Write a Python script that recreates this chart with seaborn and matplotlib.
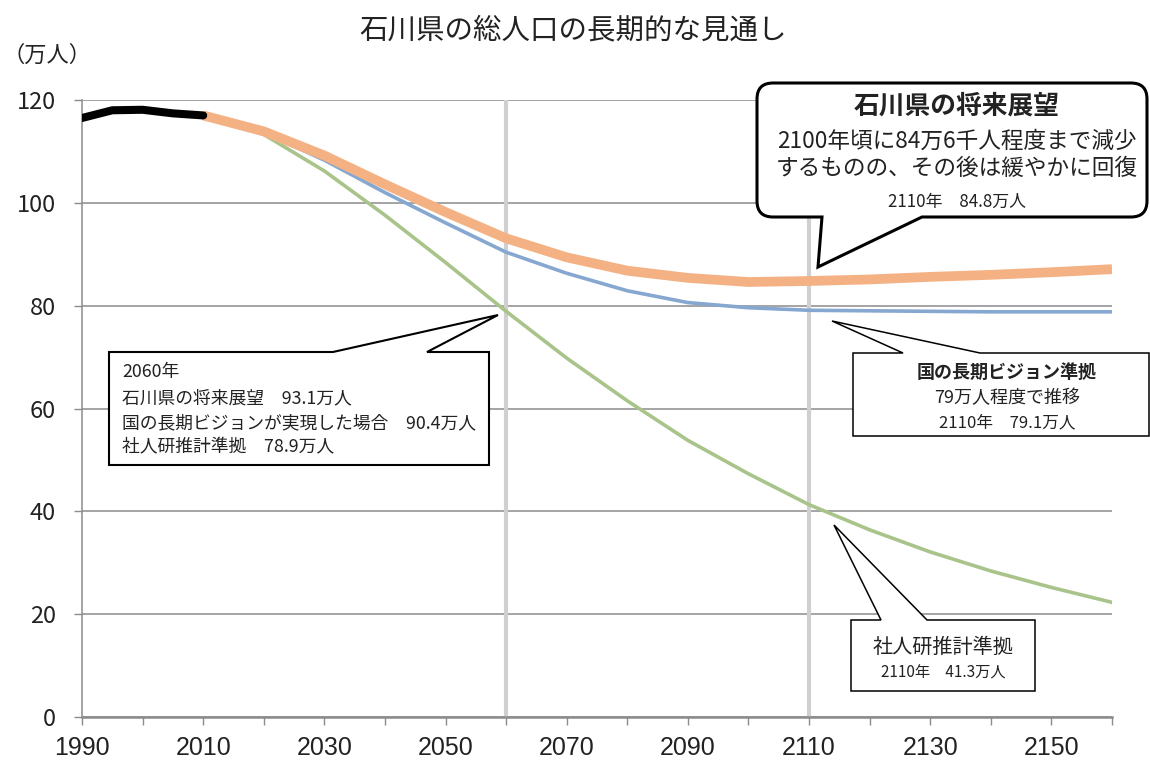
import matplotlib
matplotlib.use('Agg')
import matplotlib.pyplot as plt
import seaborn as sns
from matplotlib.path import Path
from matplotlib.patches import PathPatch

# data (万人)
years_actual = [1990, 1995, 2000, 2005, 2010]
pop_actual = [116.5, 118.0, 118.1, 117.4, 117.0]

years_proj = [2010, 2020, 2030, 2040, 2050, 2060, 2070, 2080,
              2090, 2100, 2110, 2120, 2130, 2140, 2150, 2160]
pop_pref = [117.0, 113.9, 109.2, 103.6, 98.2, 93.1, 89.4, 86.8,
            85.4, 84.6, 84.8, 85.1, 85.6, 86.0, 86.5, 87.1]
pop_national = [117.0, 113.7, 108.3, 102.0, 96.1, 90.4, 86.3, 82.9,
                80.6, 79.6, 79.1, 79.0, 78.9, 78.8, 78.8, 78.8]
pop_ipss = [117.0, 113.3, 106.2, 97.6, 88.4, 78.9, 69.8, 61.5,
            53.8, 47.3, 41.3, 36.4, 32.1, 28.4, 25.2, 22.3]

x_ticks = list(range(1990, 2161, 10))
x_labels = [str(y) if (y - 1990) % 20 == 0 else '' for y in x_ticks]
y_ticks = [0, 20, 40, 60, 80, 100, 120]
marker_years = [2060, 2110]

W, H = 1150, 767
sns.set_theme(style="white")
plt.rcParams['font.family'] = ['Noto Sans CJK JP', 'DejaVu Sans']
TXT = '#222222'
GRID = '#8c8c8c'

fig = plt.figure(figsize=(W / 100, H / 100), dpi=100)
ax = fig.add_axes([82 / W, 1 - 717 / H, (1112 - 82) / W, (717 - 100) / H])

for yr in marker_years:
    ax.axvline(yr, color='#d0d0d0', lw=3, zorder=1)

sns.lineplot(x=years_proj, y=pop_ipss, color='#a9c48a', linewidth=2.6, ax=ax, zorder=3)
sns.lineplot(x=years_proj, y=pop_national, color='#85a7d0', linewidth=2.6, ax=ax, zorder=4)
sns.lineplot(x=years_proj, y=pop_pref, color='#f4b183', linewidth=7, ax=ax, zorder=5,
             solid_capstyle='butt')
sns.lineplot(x=years_actual, y=pop_actual, color='black', linewidth=5.8, ax=ax, zorder=6,
             solid_capstyle='round')

ax.set_xlim(1990, 2160)
ax.set_ylim(0, 120)
ax.set_xticks(x_ticks)
ax.set_xticklabels(x_labels, family=['Liberation Sans', 'DejaVu Sans'], fontsize=18, color=TXT)
ax.set_yticks(y_ticks)
ax.set_yticklabels([str(v) for v in y_ticks], fontsize=17, color=TXT)
ax.set_xlabel('')
ax.set_ylabel('')
ax.tick_params(axis='x', bottom=True, direction='out', length=6, width=1, color=GRID, pad=8)
ax.tick_params(axis='y', left=True, direction='out', length=6, width=1, color=GRID, pad=13)
ax.yaxis.grid(True, color=GRID, lw=1.1)
ax.xaxis.grid(False)
ax.set_axisbelow(True)
for s in ['top', 'right']:
    ax.spines[s].set_visible(False)
ax.spines['left'].set_color(GRID)
ax.spines['left'].set_linewidth(1.1)
ax.spines['bottom'].set_color(GRID)
ax.spines['bottom'].set_linewidth(1.8)


def callout(x0, y0, x1, y1, side, a, tip, b, r=0, lw=1.2):
    # box with a pointer tail, in figure pixels (y down)
    verts = [(x0 + r, y0)]
    codes = [Path.MOVETO]
    if side == 'top':
        verts += [(a, y0), tip, (b, y0)]
        codes += [Path.LINETO] * 3
    verts += [(x1 - r, y0), (x1, y0), (x1, y0 + r)]
    codes += [Path.LINETO, Path.CURVE3, Path.CURVE3]
    verts += [(x1, y1 - r), (x1, y1), (x1 - r, y1)]
    codes += [Path.LINETO, Path.CURVE3, Path.CURVE3]
    if side == 'bottom':
        verts += [(b, y1), tip, (a, y1)]
        codes += [Path.LINETO] * 3
    verts += [(x0 + r, y1), (x0, y1), (x0, y1 - r)]
    codes += [Path.LINETO, Path.CURVE3, Path.CURVE3]
    verts += [(x0, y0 + r), (x0, y0), (x0 + r, y0)]
    codes += [Path.LINETO, Path.CURVE3, Path.CURVE3]
    verts.append((x0 + r, y0))
    codes.append(Path.CLOSEPOLY)
    verts = [(vx / W, 1 - vy / H) for vx, vy in verts]
    fig.add_artist(PathPatch(Path(verts, codes), transform=fig.transFigure,
                             facecolor='white', edgecolor='black', lw=lw,
                             joinstyle='miter', zorder=5))


def note(x, y, s, size, ha='center', weight='normal'):
    fig.text(x / W, 1 - y / H, s, ha=ha, va='center', fontsize=size,
             fontweight=weight, color=TXT, zorder=6)


fig.text(573 / W, 1 - 30 / H, '石川県の総人口の長期的な見通し', ha='center', va='center',
         fontsize=20.5, color=TXT)
note(3, 55, '（万人）', 16, ha='left')

# prefecture outlook callout
callout(757, 83, 1147, 217, 'bottom', 822, (818, 267), 922, r=16, lw=2.2)
note(957, 106, '石川県の将来展望', 18.5, weight='bold')
note(957, 141, '2100年頃に84万6千人程度まで減少', 16.3)
note(957, 168, 'するものの、その後は緩やかに回復', 16.3)
note(957, 202, '2110年　84.8万人', 12.2)

# 2060 callout
callout(109, 352, 489, 465, 'top', 333, (498, 315), 427, lw=1.5)
note(122, 372, '2060年', 12.8, ha='left')
note(122, 398, '石川県の将来展望　93.1万人', 12.8, ha='left')
note(122, 423, '国の長期ビジョンが実現した場合　90.4万人', 12.8, ha='left')
note(122, 447, '社人研推計準拠　78.9万人', 12.8, ha='left')

# national vision callout
callout(853, 353, 1149, 436, 'top', 903, (832, 321), 980, lw=1.1)
note(1007, 372, '国の長期ビジョン準拠', 13, weight='bold')
note(1007, 398, '79万人程度で推移', 13)
note(1007, 423, '2110年　79.1万人', 12)

# IPSS callout
callout(851, 620, 1035, 691, 'top', 881, (834, 525), 927, lw=1.1)
note(943, 647, '社人研推計準拠', 14.5)
note(943, 673, '2110年　41.3万人', 11)

fig.savefig('out.png', dpi=100)
